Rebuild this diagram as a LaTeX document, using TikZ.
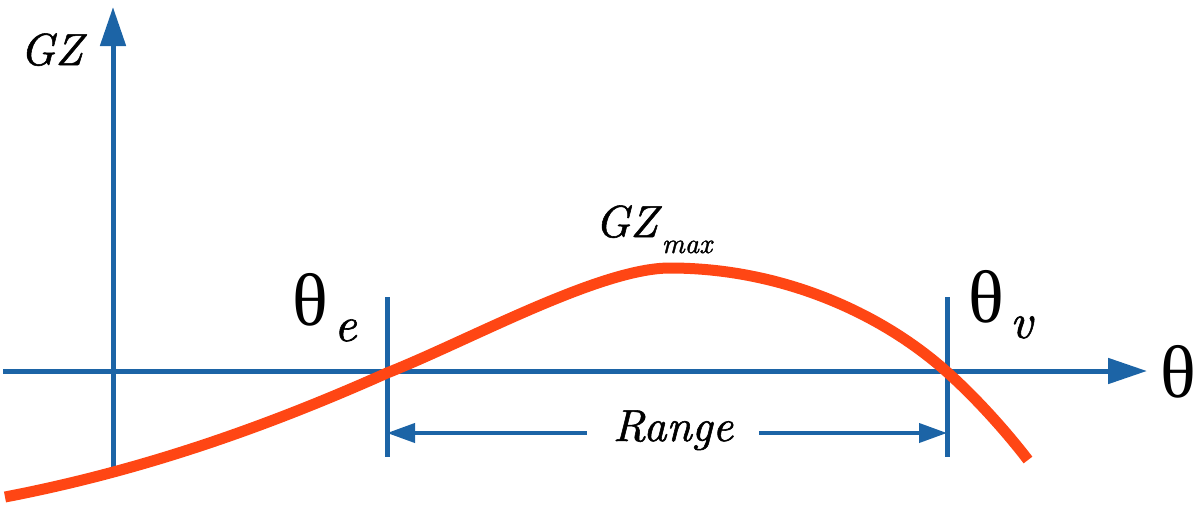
\documentclass[tikz,border=0pt]{standalone}
\usepackage{fontspec}
\setmainfont{lmroman10-regular.otf}[ItalicFont=lmroman10-italic.otf,
  ItalicFeatures={FakeBold=1.2}]
\newfontfamily\thfont{Liberation Serif}
\usetikzlibrary{%
  arrows.meta,%
  calc%
}
\definecolor{axisblue}{RGB}{28,100,166}
\definecolor{gzred}{RGB}{255,70,20}
\newcommand{\txtsize}{\fontsize{32}{38}\selectfont}
\newcommand{\thsize}{\thfont\fontsize{53}{60}\selectfont}
\newcommand{\subsize}{\fontsize{20}{24}\selectfont}
\newcommand{\thsub}[1]{{\thsize θ}\kern1.5mm\raisebox{-4mm}{\fontsize{35}{40}\selectfont\itshape #1}}
\tikzset{>=latex, axis/.style = {axisblue, line width=1.25mm},
  bigtip/.style = {-{Triangle[length=9.75mm,width=6.25mm]}},
  rangetip/.style = {-{Triangle[length=7mm,width=4.75mm]}},
  gz/.style = {gzred, line width=2.75mm},
  lbl/.style = {inner sep=0pt, anchor=base west}}

\begin{document}
\begin{tikzpicture}[x=0.25mm, y=-0.25mm]
    \useasboundingbox (0,0) rectangle (1200,512);
    % оси
    \coordinate (xs) at (3,371);
    \coordinate (xe) at (1147,371);
    \coordinate (ys) at (113,468);
    \coordinate (ye) at (113,7);
    \draw[axis,bigtip] (xs) -- (xe);
    \draw[axis,bigtip] (ys) -- (ye);
    % отметки
    \coordinate (te1) at (387,297);
    \coordinate (te2) at (387,457);
    \coordinate (tv1) at (947,297);
    \coordinate (tv2) at (947,457);
    \draw[axis] (te1) -- (te2);
    \draw[axis] (tv1) -- (tv2);
    % подписи
    \node[lbl] (gzaxis) at (20,65) {\txtsize\itshape GZ};
    \node[lbl] (thaxis) at (1160,397) {\thsize θ};
    \node[lbl] (the) at (292,325) {\thsub{e}};
    \node[lbl] (thv) at (968,322) {\thsub{v}};
    \node[lbl] (gzmax) at (595,237)
    {\txtsize\itshape GZ\kern1mm\raisebox{-4mm}{\subsize\itshape max}};
    \node[inner ysep=0pt, inner xsep=6.5mm, anchor=base] (range) at (673,441)
    {\txtsize\itshape Range};
    \draw[axis, line width=1mm, rangetip] (range.west |- 0,433) -- (te1 |- 0,433);
    \draw[axis, line width=1mm, rangetip] (range.east |- 0,433) -- (tv1 |- 0,433);
    % кривая GZ
    \draw[gz] (5,497) .. controls (135,472) and (257,431) .. (387,373)
      .. controls (470,340) and (600,268) .. (670,268)
      .. controls (780,268) and (880,312) .. (947,372)
      .. controls (975,397) and (1005,430) .. (1028,460);
\end{tikzpicture}
\end{document}
